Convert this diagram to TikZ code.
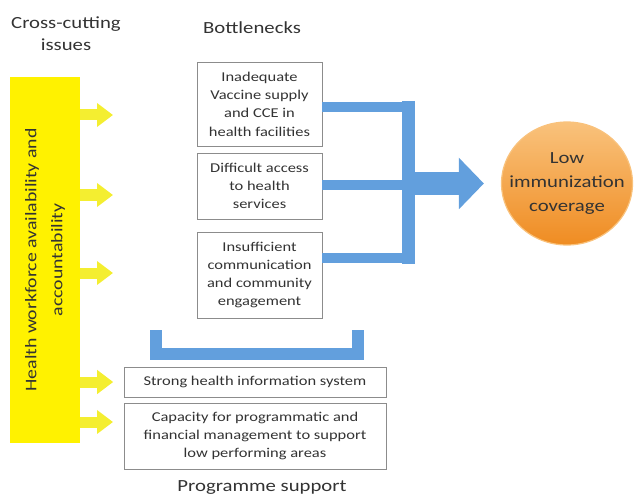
\documentclass[tikz,border=0pt]{standalone}
\usepackage{fontspec}
\setmainfont{Carlito}[FakeStretch=1.22]
\usetikzlibrary{shapes.geometric, arrows.meta}

\definecolor{barYellow}{HTML}{FFF200}
\definecolor{arrYellow}{HTML}{F4EE30}
\definecolor{lineBlue}{HTML}{629FDD}
\definecolor{boxGray}{HTML}{8C8C8C}
\definecolor{txtGray}{HTML}{333333}
\definecolor{orangeTop}{HTML}{F9C27C}
\definecolor{orangeBot}{HTML}{EF8C22}

\tikzset{
  title/.style={font=\fontsize{17}{22}\selectfont, text=txtGray, align=center},
  issue/.style={draw=boxGray, line width=0.9pt, fill=white, align=center, text=txtGray,
    font=\fontsize{13.5}{18.3}\selectfont, inner sep=2pt},
  yarrow/.style={arrYellow, line width=11pt, -{Triangle[width=23pt,length=16pt]}},
  bline/.style={lineBlue, line width=10pt},
}

\begin{document}
\begin{tikzpicture}[x=1pt, y=-1pt]
    \useasboundingbox (0,0) rectangle (634,497);
    % headings
    \node[title] (cross) at (66,34) {Cross-cutting\\issues};
    \node[title] (bottle) at (252,28) {Bottlenecks};
    \node[title] (prog) at (262,488) {Programme support};
    % cross-cutting bar
    \node[fill=barYellow, minimum width=70pt, minimum height=365pt, inner sep=0pt] (hw) at (45,260) {};
    \node[rotate=90, align=center, text=txtGray, font=\fontsize{16.2}{26}\selectfont] (hwtext) at (hw.center) {Health workforce availability and\\accountability};
    % bottleneck boxes
    \node[issue, minimum width=125pt, minimum height=84pt] (b1) at (259.5,104) {Inadequate\\Vaccine supply\\and CCE in\\health facilities};
    \node[issue, minimum width=125pt, minimum height=66pt] (b2) at (259.5,186) {Difficult access\\to health\\services};
    \node[issue, minimum width=125pt, minimum height=86pt] (b3) at (259.5,275) {Insufficient\\communication\\and community\\engagement};
    % programme support boxes
    \node[issue, minimum width=262pt, minimum height=30pt] (his) at (255,382) {Strong health information system};
    \node[issue, minimum width=262pt, minimum height=66pt] (cap) at (255,436) {Capacity for programmatic and\\financial management to support\\low performing areas};
    % outcome
    \node[ellipse, minimum width=131pt, minimum height=123pt, inner sep=0pt, top color=orangeTop, bottom color=orangeBot,
      draw=orangeTop, line width=1.2pt] (cov) at (567,183.5) {};
    \node[align=center, text=txtGray, font=\fontsize{17}{24}\selectfont] (covtext) at (cov.center) {Low\\immunization\\coverage};
    % yellow arrows
    \coordinate (y1) at (80,115);
    \coordinate (y2) at (80,195);
    \coordinate (y3) at (80,273);
    \draw[yarrow] (y1) -- ++(33,0);
    \draw[yarrow] (y2) -- ++(33,0);
    \draw[yarrow] (y3) -- ++(33,0);
    \draw[yarrow] (hw.east |- his) -- ++(33,0);
    \draw[yarrow] (80,422) -- ++(33,0);
    % blue joins
    \coordinate (j1) at (408.5,107);
    \coordinate (j2) at (408.5,185.5);
    \coordinate (j3) at (408.5,258);
    \draw[bline] (b1.east |- j1) -- (j1);
    \draw[bline] (b2.east |- j2) -- (j2);
    \draw[bline] (b3.east |- j3) -- (j3);
    \draw[lineBlue, line width=13pt] (408.5,101) -- (408.5,264);
    \draw[lineBlue, line width=23pt, -{Triangle[width=50pt,length=25pt]}] (415,183.5) -- ([xshift=-17pt]cov.west);
    % bracket over programme support
    \draw[lineBlue, line width=12pt, miter limit=4] (156,330) -- (156,353.5) -- (357.5,353.5) -- (357.5,330);
\end{tikzpicture}
\end{document}
